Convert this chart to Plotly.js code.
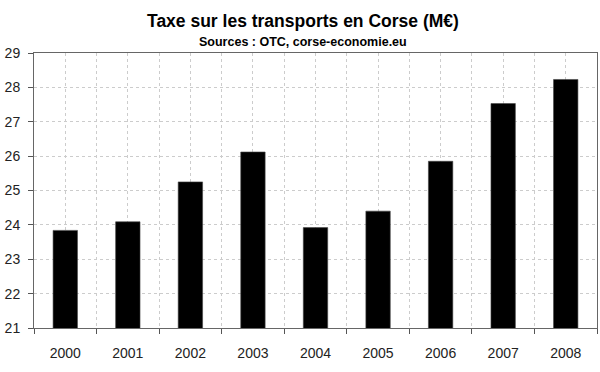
<!DOCTYPE html>
<html>
<head>
<meta charset="utf-8">
<script src="https://cdn.plot.ly/plotly-3.0.1.min.js"></script>
<style>html,body{margin:0;padding:0;background:#fff;}#chart{width:600px;height:372px;}</style>
</head>
<body>
<div id="chart"></div>
<script>
var years = [2000, 2001, 2002, 2003, 2004, 2005, 2006, 2007, 2008];
var values = [23.84, 24.09, 25.25, 26.12, 23.92, 24.40, 25.85, 27.53, 28.23];
var yTicks = [21, 22, 23, 24, 25, 26, 27, 28, 29];
var titleText = "Taxe sur les transports en Corse (M€)";
var subtitleText = "Sources : OTC, corse-economie.eu";

var font = "Liberation Sans, Arial, sans-serif";
var trace = {
  type: "bar",
  x: years,
  y: values,
  base: 0,
  width: 0.39,
  marker: {color: "#000000", line: {color: "#444", width: 0.6}},
  hoverinfo: "x+y"
};
var layout = {
  width: 600, height: 372,
  margin: {l: 34, r: 3, t: 53, b: 44},
  paper_bgcolor: "#fff", plot_bgcolor: "#fff",
  showlegend: false,
  font: {family: font, size: 14, color: "#222"},
  xaxis: {
    type: "linear",
    range: [1999.5, 2008.5],
    tickvals: years,
    ticktext: years.map(String),
    ticks: "outside", ticklen: 0,
    ticklabelstandoff: 12,
    showgrid: true, gridcolor: "#cccccc", griddash: "dot", gridwidth: 1,
    minor: {tick0: 1999.5, dtick: 1, ticks: "outside", ticklen: 5, tickcolor: "#555", tickwidth: 1,
            showgrid: true, gridcolor: "#cccccc", griddash: "dot", gridwidth: 1},
    showline: true, linecolor: "#666", linewidth: 1, mirror: true,
    zeroline: false, fixedrange: true,
    tickfont: {family: font, size: 14, color: "#222"}
  },
  yaxis: {
    range: [21, 29],
    tickvals: yTicks,
    ticktext: yTicks.map(String),
    ticks: "outside", ticklen: 5, tickcolor: "#555",
    ticklabelstandoff: 5,
    showgrid: true, gridcolor: "#cccccc", griddash: "dot", gridwidth: 1,
    showline: true, linecolor: "#666", linewidth: 1, mirror: true,
    zeroline: false, fixedrange: true,
    tickfont: {family: font, size: 14, color: "#222"}
  },
  annotations: [
    {text: "<b>" + titleText + "</b>", xref: "paper", yref: "paper", x: 0.478, y: 1, yshift: 32,
     xanchor: "center", yanchor: "middle", showarrow: false,
     font: {family: font, size: 17.5, color: "#000"}},
    {text: "<b>" + subtitleText + "</b>", xref: "paper", yref: "paper", x: 0.478, y: 1, yshift: 11,
     xanchor: "center", yanchor: "middle", showarrow: false,
     font: {family: font, size: 12.5, color: "#000"}}
  ]
};
Plotly.newPlot("chart", [trace], layout, {displayModeBar: false, staticPlot: true});
</script>
</body>
</html>
